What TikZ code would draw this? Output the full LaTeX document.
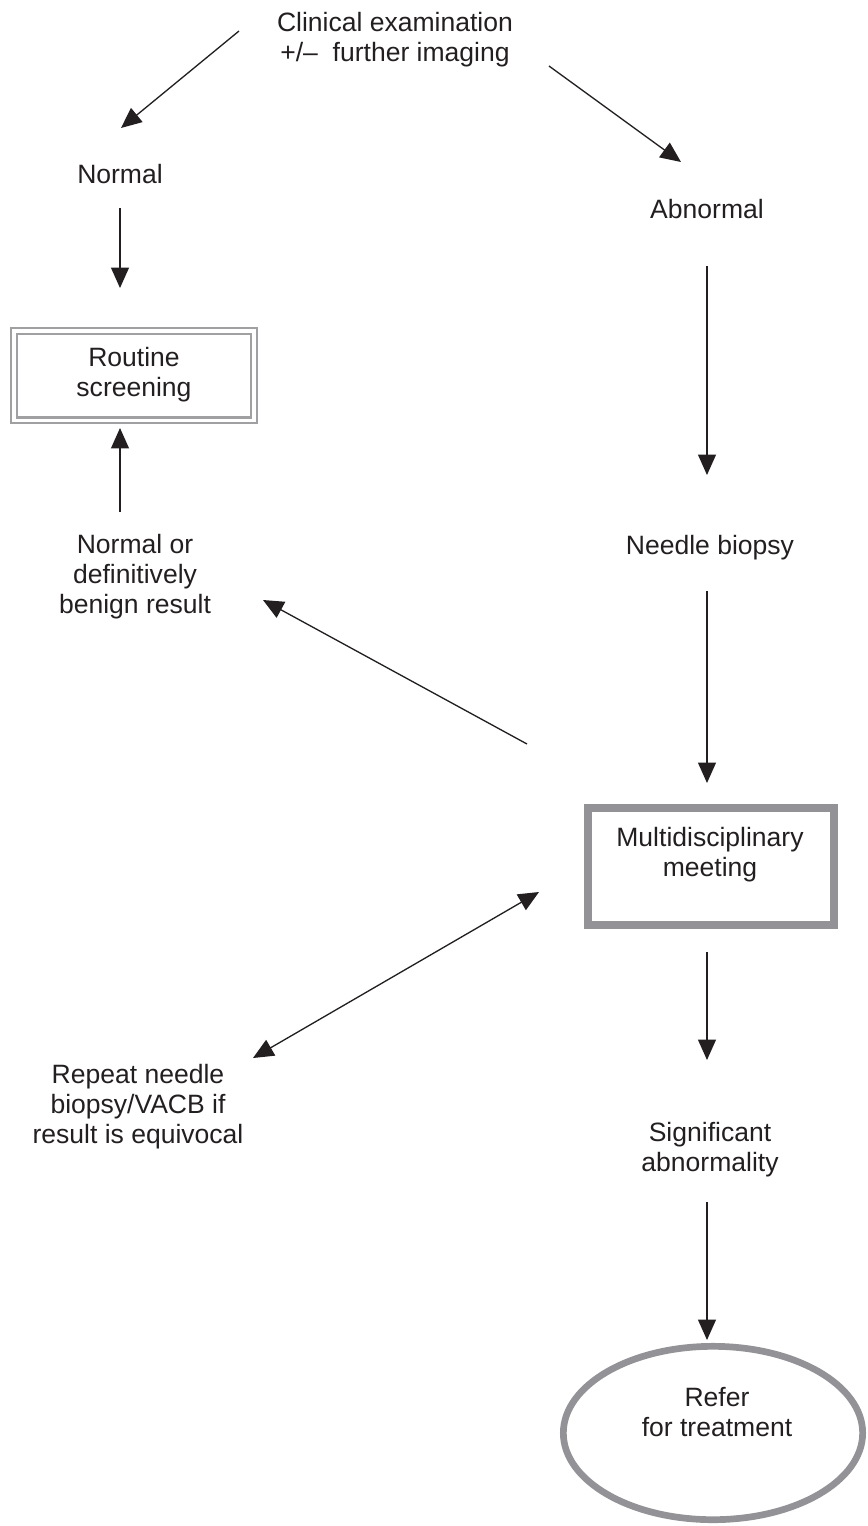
\documentclass[tikz,border=0pt]{standalone}
\usepackage{fontspec}
\setmainfont{Liberation Sans}
\usepackage{tikz}
\usetikzlibrary{arrows.meta,shapes.geometric,calc}
\definecolor{inkblack}{RGB}{35,31,32}
\definecolor{boxgray}{RGB}{160,160,163}
\definecolor{meetgray}{RGB}{147,147,151}

\begin{document}
\begin{tikzpicture}[x=0.02cm, y=-0.02cm,
        txt/.style={inner sep=0pt, outer sep=0pt, align=center, text=inkblack,
            font=\fontsize{15.1}{17.07}\selectfont},
        arr/.style={-{Triangle[length=0.41cm,width=0.36cm]}, draw=inkblack, line width=0.75pt},
        dblarr/.style={{Triangle[length=0.41cm,width=0.36cm]}-{Triangle[length=0.41cm,width=0.36cm]}, draw=inkblack, line width=0.75pt},
        routinebox/.style={txt, rectangle, draw=boxgray, double=white, double distance=0.066cm,
            line width=0.044cm, minimum width=4.806cm, minimum height=1.786cm},
        meetbox/.style={rectangle, draw=meetgray, line width=0.166cm, inner sep=0pt, outer sep=0pt,
            minimum width=4.914cm, minimum height=2.334cm},
        referring/.style={ellipse, draw=meetgray, line width=0.134cm, inner sep=0pt, outer sep=0pt,
            minimum width=5.988cm, minimum height=3.468cm}]
    \useasboundingbox (0,0) rectangle (867,1526);
    \node[txt] (clin) at (395,40) {\strut Clinical examination\\\strut +/–\ \ further imaging};
    \node[txt] (normal) at (120,177) {\strut Normal};
    \node[txt] (abnormal) at (707,212) {\strut Abnormal};
    \node[routinebox] (routine) at (134,375.5) {\strut Routine\\\strut screening};
    \node[txt] (benign) at (135,577) {\strut Normal or\\\strut definitively\\\strut benign result};
    \node[txt] (needle) at (710,548) {\strut Needle biopsy};
    \node[meetbox] (mdm) at (711,866.5) {};
    \node[txt] (mdmtxt) at (710,855) {\strut Multidisciplinary\\\strut meeting};
    \node[txt] (repeat) at (138,1107) {\strut Repeat needle\\\strut biopsy/VACB if\\\strut result is equivocal};
    \node[txt] (signif) at (710,1150) {\strut Significant\\\strut abnormality};
    \node[referring] (refer) at (713,1433) {};
    \node[txt] (refertxt) at (717,1415) {\strut Refer\\\strut for treatment};
    \coordinate (clin_l) at (239,31);
    \coordinate (normal_in) at (121,128);
    \coordinate (clin_r) at (549,66);
    \coordinate (abnormal_in) at (681,162);
    \coordinate (mdm_l) at (527,744);
    \coordinate (benign_in) at (263,600);
    \coordinate (mdm_in) at (539,892);
    \coordinate (repeat_in) at (253,1058);
    \draw[arr] (clin_l) -- (normal_in);
    \draw[arr] (clin_r) -- (abnormal_in);
    \draw[arr, shorten <=0.32cm, shorten >=0.857cm] (normal) -- (normal |- routine.north);
    \draw[arr, shorten <=0.4cm, shorten >=0.157cm] (benign.north -| normal) -- (routine.south -| normal);
    \draw[arr, shorten <=0.78cm, shorten >=1.16cm] (abnormal.south) -- (abnormal.south |- needle.north);
    \draw[arr, shorten <=0.56cm, shorten >=0.503cm] (needle.south -| abnormal) -- (mdm.north -| abnormal);
    \draw[arr] (mdm_l) -- (benign_in);
    \draw[dblarr] (repeat_in) -- (mdm_in);
    \draw[arr, shorten <=0.54cm, shorten >=1.2cm] (mdm.south -| abnormal) -- (signif.north -| abnormal);
    \draw[arr, shorten <=0.44cm, shorten >=0.126cm] (signif.south -| abnormal) -- (refer.north -| abnormal);
\end{tikzpicture}
\end{document}
